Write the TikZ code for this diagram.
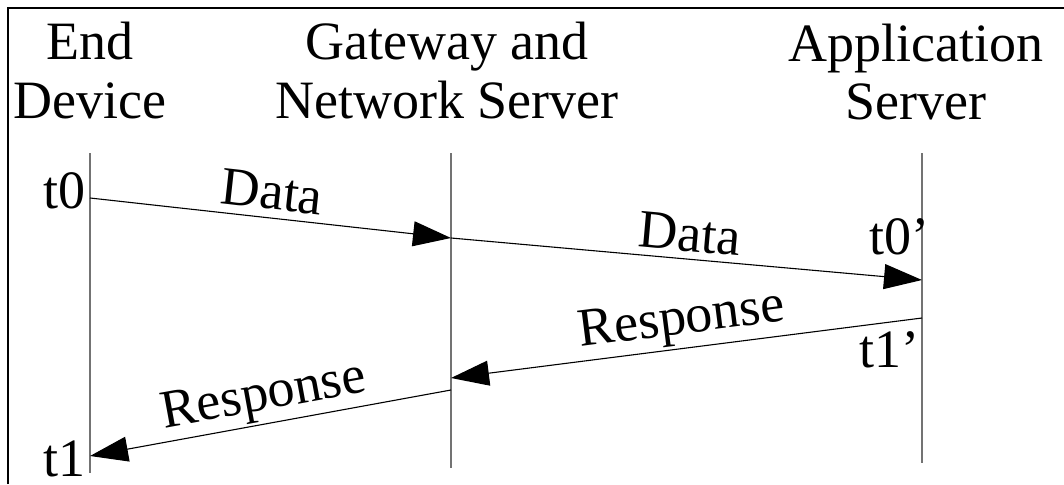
\documentclass[tikz,border=0pt]{standalone}
\usepackage{fontspec}
\setmainfont{Liberation Serif}
\usetikzlibrary{arrows.meta}
\tikzset{
  lbl/.style={font=\fontsize{54}{58}\selectfont, inner sep=0pt, align=center},
  life/.style={draw=black!55, line width=1.3pt},
  msg/.style={draw=black, line width=1.1pt, -{Triangle[length=38pt,width=25pt]}},
  tick/.style={font=\fontsize{54}{58}\selectfont, inner sep=0pt},
}
\begin{document}
\begin{tikzpicture}[x=1pt,y=-1pt]
\useasboundingbox (0,0) rectangle (1064,484);
\draw[line width=1.2pt] (8,484) -- (8,8) -- (1064,8);
% headers
\node[lbl, anchor=base] (ed1) at (90,60) {End};
\node[lbl, anchor=base] (ed2) at (90,118) {Device};
\node[lbl, anchor=base] (gw1) at (447,60) {Gateway and};
\node[lbl, anchor=base] (gw2) at (447,118) {Network Server};
\node[lbl, anchor=base] (as1) at (916,62) {Application};
\node[lbl, anchor=base] (as2) at (916,120) {Server};
% lifelines
\coordinate (a0) at (90,153); \coordinate (a1) at (90,473);
\coordinate (b0) at (451,153); \coordinate (b1) at (451,468);
\coordinate (c0) at (922,153); \coordinate (c1) at (922,463);
\draw[life] (a0) -- (a1);
\draw[life] (b0) -- (b1);
\draw[life] (c0) -- (c1);
% message points
\coordinate (m1s) at (90,198);
\coordinate (m1e) at (451,238);
\coordinate (m2e) at (922,280);
\coordinate (m3s) at (922,318);
\coordinate (m3e) at (451,378);
\coordinate (m4s) at (451,390);
\coordinate (m4e) at (90,456);
\draw[msg] (m1s) -- (m1e);
\draw[msg] (m1e) -- (m2e);
\draw[msg] (m3s) -- (m3e);
\draw[msg] (m4s) -- (m4e);
% message labels
\node[tick, rotate=-6.3] (d1) at (272,192) {Data};
\node[tick, rotate=-5.1] (d2) at (690,234) {Data};
\node[tick, rotate=7.3] (r1) at (682,322) {Response};
\node[tick, rotate=10.4] (r2) at (264,398) {Response};
% time labels
\node[tick, anchor=base east] (t0) at (86,208) {t0};
\node[tick, anchor=base east] (t0p) at (930,254) {t0’};
\node[tick, anchor=base east] (t1p) at (920,367) {t1’};
\node[tick, anchor=base east] (t1) at (86,476) {t1};
\end{tikzpicture}
\end{document}
